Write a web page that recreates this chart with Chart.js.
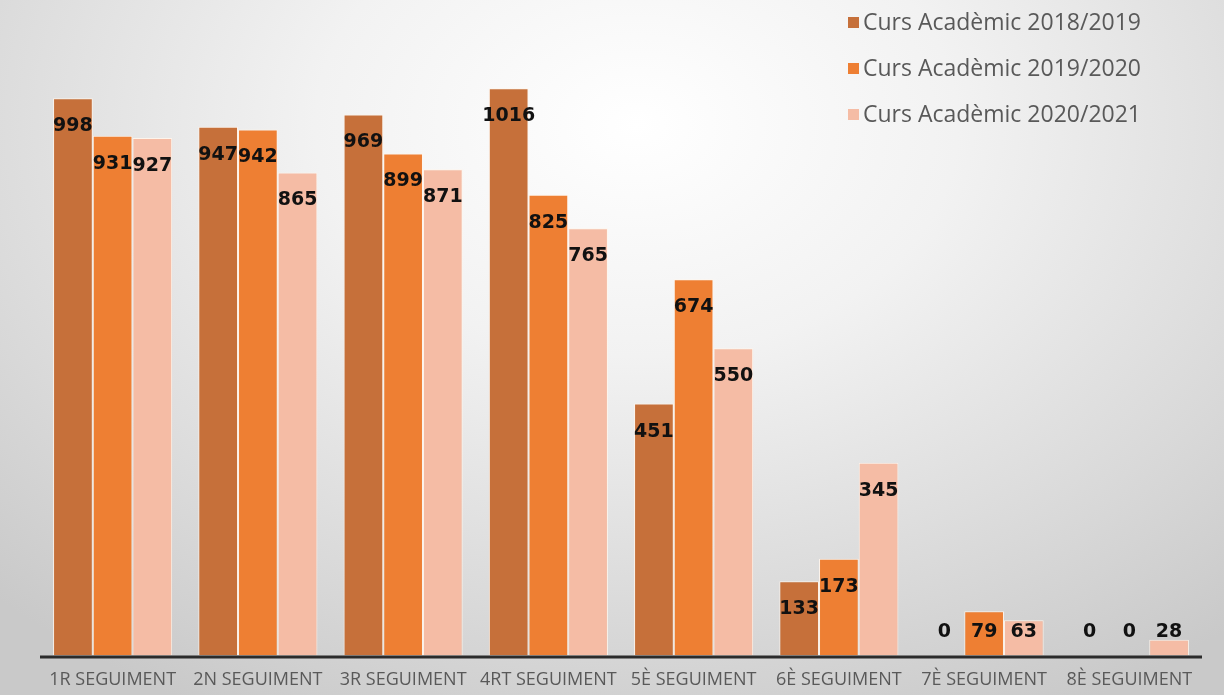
<!DOCTYPE html>
<html>
<head>
<meta charset="utf-8">
<script src="https://cdn.jsdelivr.net/npm/chart.js@4/dist/chart.umd.min.js"></script>
<style>
  html, body { margin: 0; padding: 0; }
  body {
    width: 1224px; height: 695px; overflow: hidden; position: relative;
    background: radial-gradient(ellipse 75% 95% at 52% 18%, #ffffff 0%, #f2f2f2 35%, #d9d9d9 75%, #c9c9c9 100%);
  }
  #wrap { position: absolute; left: 0; top: 0; width: 1224px; height: 695px; }
  #legend { position: absolute; left: 848px; top: 4px; font-family: "Open Sans", sans-serif; font-size: 23px; color: #595959; }
  #legend div { height: 46px; line-height: 34px; white-space: nowrap; }
  #legend span.box { display: inline-block; width: 11px; height: 11px; margin-right: 4px; vertical-align: 2px; }
</style>
</head>
<body>
<div id="wrap"><canvas id="barChart" width="1224" height="695"></canvas></div>
<div id="legend"></div>
<script>
const categories = ['1R SEGUIMENT', '2N SEGUIMENT', '3R SEGUIMENT', '4RT SEGUIMENT', '5È SEGUIMENT', '6È SEGUIMENT', '7È SEGUIMENT', '8È SEGUIMENT'];
const seriesNames = ['Curs Acadèmic 2018/2019', 'Curs Acadèmic 2019/2020', 'Curs Acadèmic 2020/2021'];
const curs1819 = [998, 947, 969, 1016, 451, 133, 0, 0];
const curs1920 = [931, 942, 899, 825, 674, 173, 79, 0];
const curs2021 = [927, 865, 871, 765, 550, 345, 63, 28];
const colors = ['#c6703a', '#ee7f33', '#f5bca5'];

// legend
const legendEl = document.getElementById('legend');
seriesNames.forEach((name, i) => {
  const row = document.createElement('div');
  row.innerHTML = '<span class="box" style="background:' + colors[i] + '"></span>' + name;
  legendEl.appendChild(row);
});

// value labels drawn inside the top of each bar
const valueLabels = {
  id: 'valueLabels',
  afterDatasetsDraw(chart) {
    const ctx = chart.ctx;
    const base = chart.scales.y.getPixelForValue(0);
    ctx.save();
    ctx.font = 'bold 19px "DejaVu Sans", sans-serif';
    ctx.fillStyle = '#111';
    ctx.textAlign = 'center';
    ctx.textBaseline = 'middle';
    chart.data.datasets.forEach((ds, di) => {
      chart.getDatasetMeta(di).data.forEach((bar, i) => {
        const y = Math.min(bar.y + 28, base - 23);
        ctx.fillText(String(ds.data[i]), bar.x, y);
      });
    });
    ctx.restore();
  }
};

// thick dark baseline
const baseLine = {
  id: 'baseLine',
  afterDatasetsDraw(chart) {
    const ctx = chart.ctx;
    const area = chart.chartArea;
    const y = chart.scales.y.getPixelForValue(0);
    ctx.save();
    ctx.strokeStyle = '#2b2b2b';
    ctx.lineWidth = 3;
    ctx.beginPath();
    ctx.moveTo(area.left, y + 1.5);
    ctx.lineTo(area.right, y + 1.5);
    ctx.stroke();
    ctx.restore();
  }
};

const ctx = document.getElementById('barChart').getContext('2d');
new Chart(ctx, {
  type: 'bar',
  data: {
    labels: categories,
    datasets: [curs1819, curs1920, curs2021].map((d, i) => ({
      label: seriesNames[i],
      data: d,
      backgroundColor: colors[i],
      borderColor: 'rgba(255,245,235,0.9)',
      borderWidth: 1,
      categoryPercentage: 0.82,
      barPercentage: 1.0
    }))
  },
  options: {
    responsive: false,
    animation: false,
    layout: { padding: { left: 40, right: 22, top: 0, bottom: -10 } },
    plugins: { legend: { display: false }, tooltip: { enabled: false } },
    scales: {
      x: {
        grid: { display: false, drawTicks: false },
        border: { display: false },
        ticks: { color: '#595959', font: { family: 'Open Sans', size: 18 }, padding: 14, maxRotation: 0, autoSkip: false }
      },
      y: {
        display: false,
        min: 0,
        max: 1174
      }
    }
  },
  plugins: [valueLabels, baseLine]
});
</script>
</body>
</html>
